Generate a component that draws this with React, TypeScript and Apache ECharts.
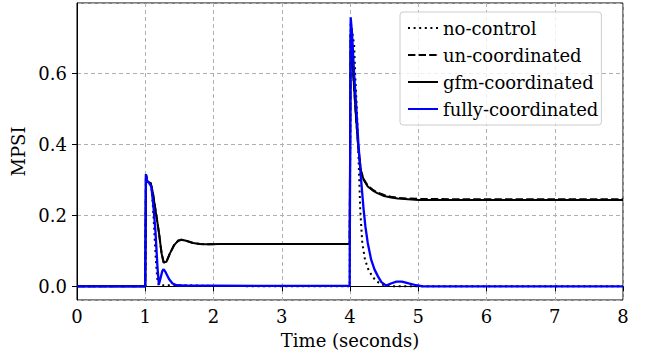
import React, { useEffect, useRef } from "react";
import * as echarts from "echarts";

const FONT = "'DejaVu Serif', 'Liberation Serif', serif";
const FS = 18;

// Time in seconds and MPSI values
const noControlT = [0, 1.0, 1.01, 1.03, 1.08, 1.1, 1.12, 1.14, 1.16, 1.18, 1.2, 1.3, 1.6, 2.0, 3.0, 3.995, 4.0, 4.01, 4.03, 4.06, 4.08, 4.1, 4.12, 4.135, 4.15, 4.18, 4.22, 4.27, 4.32, 4.37, 4.45, 4.54, 4.7, 6.0, 8.0];
const noControlV = [0, 0, 0.315, 0.295, 0.285, 0.265, 0.2, 0.13, 0.06, 0.015, 0.002, 0.003, 0.003, 0.001, 0.0, 0.0, 0.0, 0.745, 0.72, 0.68, 0.58, 0.5, 0.39, 0.305, 0.215, 0.122, 0.075, 0.047, 0.03, 0.018, 0.006, 0.001, 0.0, 0.0, 0.0];

const unCoordT = [0, 1.0, 1.01, 1.03, 1.08, 1.11, 1.15, 1.2, 1.24, 1.27, 1.31, 1.36, 1.42, 1.48, 1.53, 1.6, 1.7, 1.8, 1.9, 2.1, 3.0, 3.995, 4.0, 4.01, 4.03, 4.06, 4.09, 4.12, 4.16, 4.2, 4.26, 4.33, 4.4, 4.5, 4.6, 4.7, 4.85, 5.0, 5.5, 6.0, 8.0];
const unCoordV = [0, 0, 0.315, 0.295, 0.29, 0.265, 0.215, 0.152, 0.092, 0.067, 0.069, 0.092, 0.115, 0.128, 0.131, 0.128, 0.122, 0.119, 0.118, 0.119, 0.119, 0.119, 0.119, 0.71, 0.65, 0.56, 0.47, 0.395, 0.325, 0.302, 0.283, 0.272, 0.264, 0.257, 0.252, 0.249, 0.247, 0.246, 0.245, 0.245, 0.245];

const gfmCoordT = [0, 1.0, 1.01, 1.03, 1.08, 1.11, 1.15, 1.2, 1.24, 1.27, 1.31, 1.36, 1.42, 1.48, 1.53, 1.6, 1.7, 1.8, 1.9, 2.1, 3.0, 3.995, 4.0, 4.01, 4.03, 4.06, 4.09, 4.12, 4.16, 4.2, 4.26, 4.33, 4.4, 4.5, 4.6, 4.7, 4.85, 5.0, 5.5, 6.0, 8.0];
const gfmCoordV = [0, 0, 0.315, 0.295, 0.29, 0.265, 0.215, 0.152, 0.092, 0.067, 0.069, 0.092, 0.115, 0.128, 0.131, 0.128, 0.122, 0.119, 0.118, 0.119, 0.119, 0.119, 0.119, 0.71, 0.65, 0.56, 0.47, 0.395, 0.325, 0.3, 0.281, 0.27, 0.262, 0.254, 0.25, 0.247, 0.245, 0.243, 0.243, 0.243, 0.243];

const fullyCoordT = [0, 1.0, 1.01, 1.03, 1.06, 1.09, 1.12, 1.15, 1.18, 1.2, 1.22, 1.25, 1.27, 1.3, 1.35, 1.4, 1.46, 1.6, 2.0, 3.0, 3.995, 4.0, 4.01, 4.03, 4.06, 4.09, 4.12, 4.16, 4.2, 4.225, 4.26, 4.31, 4.36, 4.41, 4.46, 4.53, 4.6, 4.68, 4.76, 4.86, 4.97, 5.07, 6.0, 8.0];
const fullyCoordV = [0, 0, 0.315, 0.295, 0.29, 0.28, 0.225, 0.153, 0.051, 0.005, 0.02, 0.043, 0.048, 0.039, 0.02, 0.008, 0.003, 0.002, 0.002, 0.001, 0.001, 0.0, 0.757, 0.71, 0.6, 0.51, 0.41, 0.305, 0.215, 0.169, 0.122, 0.075, 0.047, 0.028, 0.012, 0.002, 0.008, 0.013, 0.013, 0.008, 0.003, 0.0, 0.0, 0.0];

const seriesNames = ["no-control", "un-coordinated", "gfm-coordinated", "fully-coordinated"];
const xTicks = [0, 1, 2, 3, 4, 5, 6, 7, 8];

const zip = (t: number[], v: number[]) => t.map((x, i) => [x, v[i]]);

// legend icon shapes (30 x 2 box)
const ICON_DOTTED = "path://M0,0h2v2h-2zM5.6,0h2v2h-2zM11.2,0h2v2h-2zM16.8,0h2v2h-2zM22.4,0h2v2h-2zM28,0h2v2h-2z";
const ICON_DASHED = "path://M0,0h7.4v2h-7.4zM10.6,0h7.4v2h-7.4zM21.2,0h7.4v2h-7.4zM29.9,0h0.1v2h-0.1z";
const ICON_SOLID = "path://M0,0h30v2h-30z";

const seriesDefs = [
  { name: seriesNames[0], data: zip(noControlT, noControlV), color: "#000000", type: [2, 3.6] as any, width: 2, icon: ICON_DOTTED },
  { name: seriesNames[1], data: zip(unCoordT, unCoordV), color: "#000000", type: [7.4, 3.2] as any, width: 2, icon: ICON_DASHED },
  { name: seriesNames[2], data: zip(gfmCoordT, gfmCoordV), color: "#000000", type: "solid" as any, width: 2, icon: ICON_SOLID },
  { name: seriesNames[3], data: zip(fullyCoordT, fullyCoordV), color: "#0000ff", type: "solid" as any, width: 2.3, icon: ICON_SOLID },
];

export default function App() {
  const ref = useRef<HTMLDivElement>(null);
  useEffect(() => {
    if (!ref.current) return;
    const chart = echarts.init(ref.current, null, { renderer: "svg" });

    chart.setOption({
      animation: false,
      backgroundColor: "#ffffff",
      grid: {
        left: 77,
        right: 25,
        top: 3,
        bottom: 58,
        show: true,
        borderColor: "#000",
        borderWidth: 1,
        containLabel: false,
      },
      legend: {
        orient: "vertical",
        left: 400,
        top: 12,
        padding: [7, 3, 7, 8],
        itemWidth: 30,
        itemHeight: 2,
        itemGap: 9,
        itemTextGap: 27,
        backgroundColor: "rgba(255,255,255,0.8)",
        borderColor: "#cccccc",
        borderWidth: 1,
        borderRadius: 3,
        selectedMode: false,
        textStyle: { color: "#000", fontFamily: FONT, fontSize: FS },
        data: seriesDefs.map((s) => ({ name: s.name, icon: s.icon, itemStyle: { color: s.color } })),
      },
      xAxis: {
        type: "value",
        min: 0,
        max: 8,
        interval: 1,
        name: "Time (seconds)",
        nameLocation: "middle",
        nameGap: 31,
        nameTextStyle: { color: "#000", fontFamily: FONT, fontSize: FS },
        axisLine: { show: true, lineStyle: { color: "#000", width: 1 } },
        axisTick: { show: true, length: 5, lineStyle: { color: "#000" } },
        axisLabel: {
          color: "#000",
          fontFamily: FONT,
          fontSize: FS,
          margin: 7,
          formatter: (v: number) => (xTicks.includes(v) ? String(v) : ""),
        },
        splitLine: { show: true, lineStyle: { color: "#b0b0b0", type: [4, 3], width: 1 } },
      },
      yAxis: {
        type: "value",
        min: -0.0385,
        max: 0.797,
        splitNumber: 4,
        minInterval: 0.2,
        maxInterval: 0.2,
        name: "MPSI",
        nameLocation: "middle",
        nameGap: 46,
        nameTextStyle: { color: "#000", fontFamily: FONT, fontSize: FS },
        axisLine: { show: true, lineStyle: { color: "#000", width: 1 } },
        axisTick: { show: true, length: 5, lineStyle: { color: "#000" } },
        axisLabel: {
          color: "#000",
          fontFamily: FONT,
          fontSize: FS,
          margin: 10,
          showMinLabel: false,
          showMaxLabel: false,
          formatter: (v: number) => v.toFixed(1),
        },
        splitLine: { show: true, lineStyle: { color: "#b0b0b0", type: [4, 3], width: 1 } },
      },
      series: seriesDefs.map((s) => ({
        name: s.name,
        type: "line",
        data: s.data,
        symbol: "none",
        clip: true,
        color: s.color,
        lineStyle: { color: s.color, width: s.width, type: s.type, cap: "butt" },
        itemStyle: { color: s.color },
      })),
    });
    return () => chart.dispose();
  }, []);
  return <div ref={ref} style={{ width: 648, height: 358, position: "fixed", left: 0, top: 0 }} />;
}
